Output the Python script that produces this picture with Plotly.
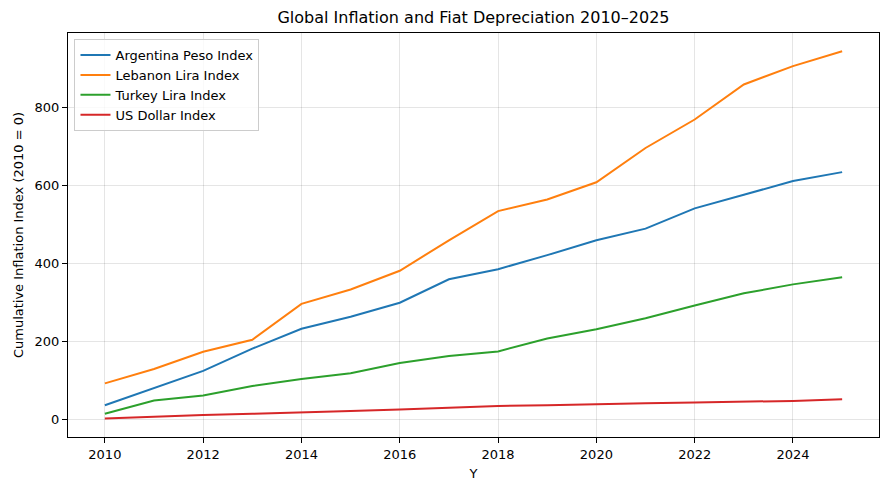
import plotly.graph_objects as go

years = list(range(2010, 2026))
argentina = [37, 80, 125, 182, 233, 264, 300, 360, 386, 422, 460, 490, 542, 577, 612, 635]
lebanon = [93, 130, 174, 205, 297, 334, 382, 460, 535, 565, 609, 697, 770, 860, 907, 945]
turkey = [15, 49, 62, 86, 104, 119, 145, 163, 175, 208, 232, 260, 293, 324, 347, 365]
usd = [3, 8, 12, 15, 18, 22, 26, 30, 35, 37, 40, 42, 44, 46, 48, 52]

series = [
    ("Argentina Peso Index", argentina, "#1f77b4"),
    ("Lebanon Lira Index", lebanon, "#ff7f0e"),
    ("Turkey Lira Index", turkey, "#2ca02c"),
    ("US Dollar Index", usd, "#d62728"),
]

fig = go.Figure()
for name, vals, color in series:
    fig.add_trace(go.Scatter(x=years, y=vals, mode="lines", name=name,
                             line=dict(color=color, width=2)))

axis_common = dict(
    showline=True, linecolor="black", linewidth=1, mirror=True,
    ticks="outside", ticklen=5, tickcolor="black",
    showgrid=True, gridcolor="rgba(0,0,0,0.1)", gridwidth=1,
    zeroline=False,
    tickfont=dict(family="DejaVu Sans", size=13, color="black"),
)

fig.update_layout(
    width=881, height=482,
    margin=dict(l=58, r=9, t=25, b=53),
    paper_bgcolor="white", plot_bgcolor="white",
    font=dict(family="DejaVu Sans", size=13, color="black"),
    title=dict(text="Global Inflation and Fiat Depreciation 2010–2025",
               x=0.5, xanchor="center", xref="paper", y=0.981, yanchor="middle",
               font=dict(size=16, family="DejaVu Sans", color="black")),
    xaxis=dict(**axis_common, range=[2009.25, 2025.75], tickvals=list(range(2010, 2025, 2)),
               title=dict(text="Y", standoff=8, font=dict(size=13))),
    yaxis=dict(**axis_common, range=[-44.6, 992], tickvals=[0, 200, 400, 600, 800],
               title=dict(text="Cumulative Inflation Index (2010 = 0)", standoff=8, font=dict(size=13))),
    legend=dict(x=0.008, y=0.985, xanchor="left", yanchor="top",
                bgcolor="rgba(255,255,255,0.8)", bordercolor="#cccccc", borderwidth=1,
                font=dict(size=13, family="DejaVu Sans"), tracegroupgap=0),
)

fig.write_html("out.html")
